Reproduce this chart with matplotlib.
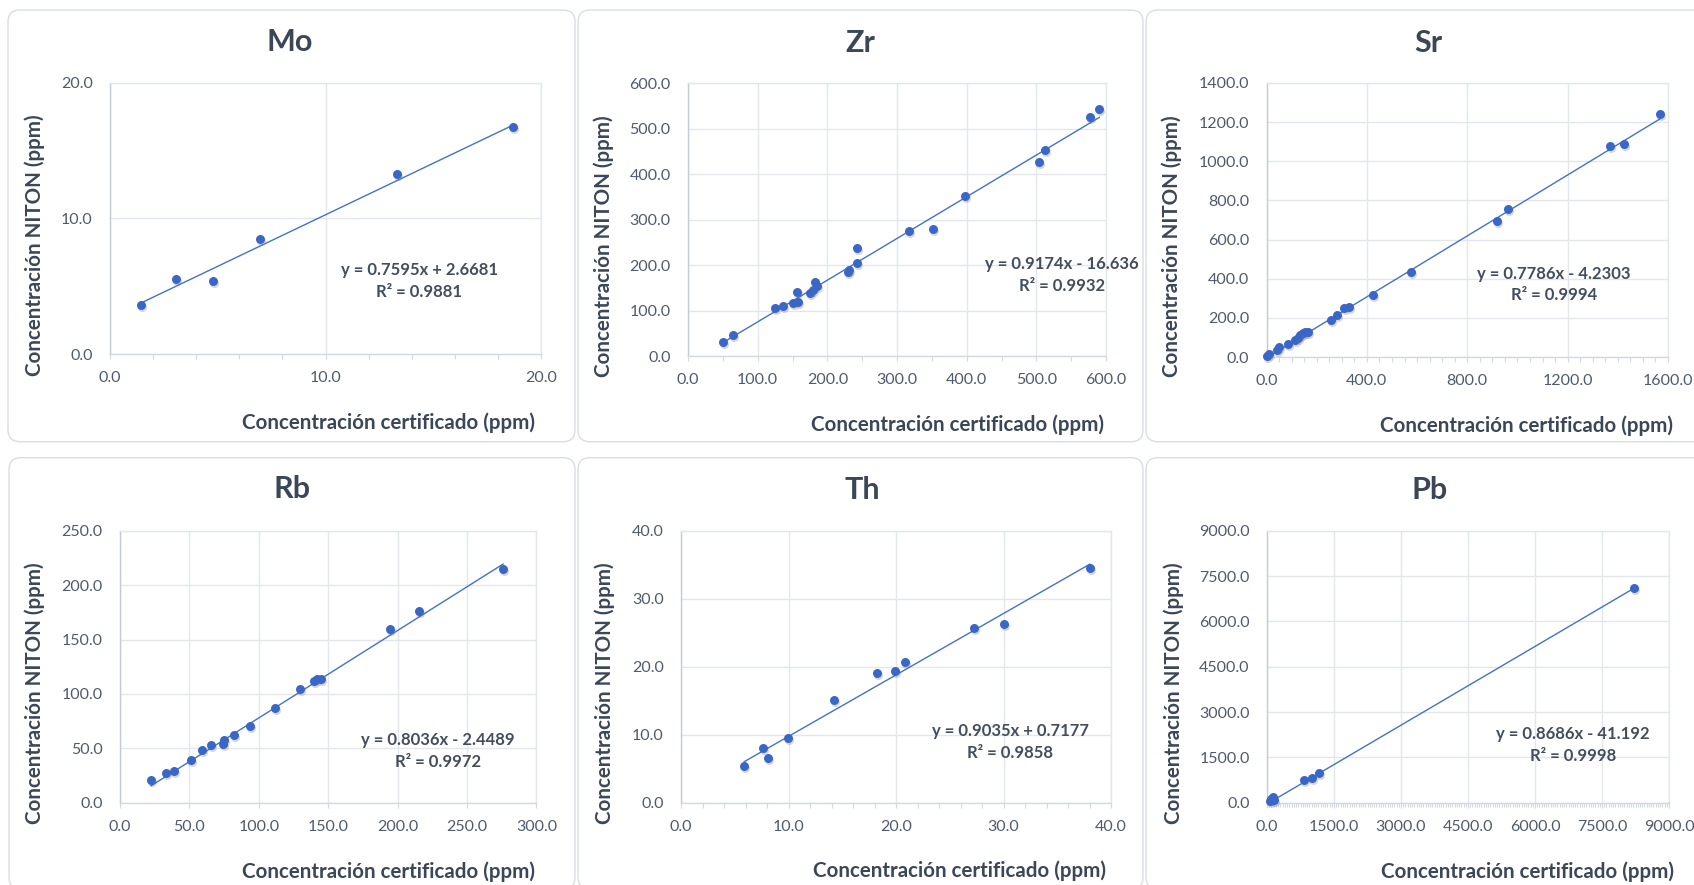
import numpy as np
import matplotlib
matplotlib.use('Agg')
import matplotlib.pyplot as plt
from matplotlib.patches import FancyBboxPatch
from matplotlib.ticker import FormatStrFormatter, MultipleLocator, NullLocator
from matplotlib.transforms import IdentityTransform, offset_copy

W, H = 1694, 885
plt.rcParams['font.family'] = ['Lato', 'DejaVu Sans']

# Datos: concentración certificada (x) vs NITON (y), en ppm
mo_cert = [1.44, 3.04, 4.79, 6.97, 13.34, 18.69]
mo_niton = [3.61, 5.50, 5.38, 8.45, 13.27, 16.71]

zr_cert = [50.9, 65.3, 125.2, 135.8, 150.1, 157.0, 158.6, 175.6, 179.8, 183.0,
           185.7, 229.2, 230.7, 241.9, 241.9, 317.8, 351.7, 397.9, 504.5, 512.5,
           577.2, 590.4]
zr_niton = [30.1, 46.2, 104.9, 110.0, 115.9, 141.6, 119.6, 139.4, 145.2, 162.1,
            154.0, 185.6, 189.2, 203.9, 236.9, 275.1, 280.2, 352.1, 426.2, 452.6,
            526.7, 542.8]

sr_cert = [3, 8, 42, 48, 84, 115, 127, 135, 144, 153, 165, 258, 279, 310, 329,
           425, 574, 920, 964, 1368, 1426, 1569]
sr_niton = [3, 14, 38, 51, 68, 85, 99, 113, 123, 128, 128, 191, 213, 248, 253,
            319, 435, 695, 755, 1079, 1088, 1241]

rb_cert = [22.4, 32.8, 38.9, 51.2, 59.2, 65.9, 74.4, 74.9, 82.1, 93.9, 111.7,
           129.9, 140.0, 142.1, 145.1, 194.7, 215.7, 276.0]
rb_niton = [20.5, 27.0, 29.4, 38.9, 48.4, 52.7, 53.6, 57.6, 62.5, 70.8, 86.7,
            104.2, 111.8, 113.4, 114.0, 159.6, 175.9, 215.1]

th_cert = [5.88, 7.64, 8.08, 9.94, 14.24, 18.26, 19.91, 20.84, 27.27, 30.03, 38.04]
th_niton = [5.39, 7.99, 6.52, 9.46, 15.05, 19.02, 19.41, 20.74, 25.64, 26.32, 34.56]

pb_cert = [63, 95, 142, 158, 831, 997, 1172, 8209]
pb_niton = [55, 121, 199, 88, 739, 827, 971, 7114]

elementos = ['Mo', 'Zr', 'Sr', 'Rb', 'Th', 'Pb']
pendientes = [0.7595, 0.9174, 0.7786, 0.8036, 0.9035, 0.8686]
interceptos = [2.6681, -16.636, -4.2303, -2.4489, 0.7177, -41.192]
r2 = [0.9881, 0.9932, 0.9994, 0.9972, 0.9858, 0.9998]

datos = {'Mo': (mo_cert, mo_niton), 'Zr': (zr_cert, zr_niton),
         'Sr': (sr_cert, sr_niton), 'Rb': (rb_cert, rb_niton),
         'Th': (th_cert, th_niton), 'Pb': (pb_cert, pb_niton)}

# Escalas de los ejes: (xmax, paso x, menor x, ymax, paso y)
escalas = {'Mo': (20, 10, 2, 20, 10), 'Zr': (600, 100, 50, 600, 100),
           'Sr': (1600, 400, 50, 1400, 200), 'Rb': (300, 50, None, 250, 50),
           'Th': (40, 10, 2, 40, 10), 'Pb': (9000, 1500, 50, 9000, 1500)}

# Posiciones en píxeles (desde arriba a la izquierda)
ejes_px = {'Mo': (110, 82.7, 541, 354), 'Zr': (688, 83.3, 1106, 356),
           'Sr': (1266.5, 83, 1668, 357), 'Rb': (120, 530.7, 536.4, 802.7),
           'Th': (681, 530.7, 1111, 802.7), 'Pb': (1267, 530.7, 1669, 802.7)}
paneles_px = [(8, 10, 575, 441.7), (578, 10, 1143, 441.7), (1146, 10, 1712, 441.7),
              (9, 457.7, 575, 889), (578, 457.7, 1143, 889), (1146, 457.7, 1712, 889)]
titulo_px = {'Mo': (290, 41.7), 'Zr': (860, 42.7), 'Sr': (1428, 43),
             'Rb': (292, 489), 'Th': (862.8, 490), 'Pb': (1430, 490)}
xlabel_px = {'Mo': (388, 423), 'Zr': (957.6, 425), 'Sr': (1526, 426),
             'Rb': (388, 872), 'Th': (959, 871), 'Pb': (1527, 872)}
ylabel_px = {'Mo': (35, 245), 'Zr': (604, 246), 'Sr': (1172, 246),
             'Rb': (35, 693), 'Th': (605, 693), 'Pb': (1173.6, 693)}
ecuacion_px = {'Mo': (419, 281), 'Zr': (1062, 275), 'Sr': (1554, 284.5),
               'Rb': (437.7, 751), 'Th': (1010, 742), 'Pb': (1573, 745)}

COLOR_TITULO = '#3b4757'
COLOR_TICK = '#4f5b6b'
COLOR_EC = '#434e5d'
AZUL = '#3a67c6'
LINEA = '#4472C4'
GRID = '#e3e7ec'

fig = plt.figure(figsize=(W / 100, H / 100), dpi=100)
fig.patch.set_facecolor('white')

# Bordes redondeados de cada gráfico
for (x0, y0, x1, y1) in paneles_px:
    caja = FancyBboxPatch((x0, H - y1), x1 - x0, y1 - y0,
                          boxstyle='round,pad=0,rounding_size=12',
                          transform=IdentityTransform(), facecolor='none',
                          edgecolor='#d9dde3', linewidth=1.0, zorder=-1)
    fig.patches.append(caja)


def fx(px):
    return px / W


def fy(py):
    return 1 - py / H


for i, el in enumerate(elementos):
    x0, y0, x1, y1 = ejes_px[el]
    ax = fig.add_axes([fx(x0), fy(y1), fx(x1) - fx(x0), (y1 - y0) / H])
    ax.patch.set_alpha(0)
    xmax, xstep, xminor, ymax, ystep = escalas[el]
    cert, niton = datos[el]

    ax.set_xlim(0, xmax)
    ax.set_ylim(0, ymax)
    ax.xaxis.set_major_locator(MultipleLocator(xstep))
    ax.yaxis.set_major_locator(MultipleLocator(ystep))
    if xminor:
        ax.xaxis.set_minor_locator(MultipleLocator(xminor))
    else:
        ax.xaxis.set_minor_locator(NullLocator())
    ax.xaxis.set_major_formatter(FormatStrFormatter('%.1f'))
    ax.yaxis.set_major_formatter(FormatStrFormatter('%.1f'))

    ax.grid(True, which='major', color=GRID, linewidth=1.0)
    ax.set_axisbelow(True)
    for lado in ['top', 'right']:
        ax.spines[lado].set_color(GRID)
    ax.spines['left'].set_color('#c3cbd6')
    ax.spines['bottom'].set_color('#d3d9e2')
    for sp in ax.spines.values():
        sp.set_linewidth(1.0)

    ax.tick_params(axis='x', which='both', direction='out', length=4.5 * 0.72,
                   width=0.8, color='#d3d9e2', labelsize=11.5,
                   labelcolor=COLOR_TICK, pad=9)
    ax.tick_params(axis='x', which='minor', length=3.5 * 0.72 if el == 'Pb' else 4.5 * 0.72)
    ax.tick_params(axis='y', which='both', length=0, labelsize=11.5,
                   labelcolor=COLOR_TICK, pad=12.5)

    # sombra suave de los marcadores
    sombra = offset_copy(ax.transData, fig=fig, x=1, y=-2, units='dots')
    ax.scatter(cert, niton, s=42, color='#8c8c8c', alpha=0.35, linewidths=0,
               transform=sombra, zorder=3, clip_on=False)
    ax.scatter(cert, niton, s=42, color=AZUL, linewidths=0, zorder=4, clip_on=False)

    # línea de tendencia lineal
    xs = np.array([min(cert), max(cert)])
    ax.plot(xs, pendientes[i] * xs + interceptos[i], color=LINEA, linewidth=1.0, zorder=3)

    signo = '+' if interceptos[i] >= 0 else '-'
    texto = f"y = {pendientes[i]:g}x {signo} {abs(interceptos[i]):g}\nR\u00b2 = {r2[i]:.4f}"
    ex, ey = ecuacion_px[el]
    fig.text(fx(ex), fy(ey), texto, ha='center', va='center', multialignment='center',
             fontsize=12, fontweight='bold', color=COLOR_EC, linespacing=1.45)

    tx, ty = titulo_px[el]
    fig.text(fx(tx), fy(ty), el, ha='center', va='center', fontsize=22,
             fontweight='bold', color=COLOR_TITULO)
    lx, ly = xlabel_px[el]
    fig.text(fx(lx), fy(ly), 'Concentración certificado (ppm)', ha='center', va='center',
             fontsize=14.8, fontweight='bold', color=COLOR_TITULO)
    vx, vy = ylabel_px[el]
    fig.text(fx(vx), fy(vy), 'Concentración NITON (ppm)', ha='center', va='center',
             rotation=90, fontsize=14.8, fontweight='bold', color=COLOR_TITULO)

fig.savefig('out.png', dpi=100, facecolor='white')
